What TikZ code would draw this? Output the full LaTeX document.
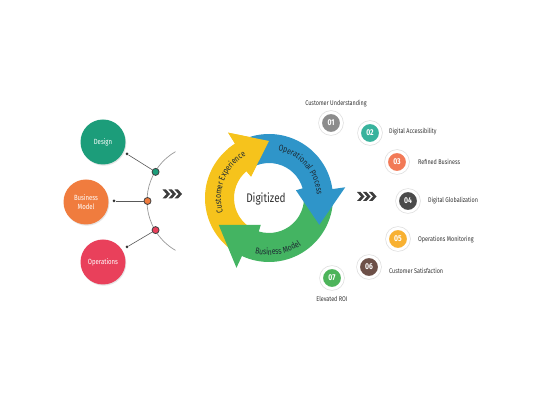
\documentclass[tikz,border=0pt]{standalone}
\usepackage{fontspec}
\setmainfont{Fira Sans}[FakeStretch=0.8]
\usetikzlibrary{decorations.text,calc,shadows}
\definecolor{cYel}{HTML}{F6C31C}
\definecolor{cBlu}{HTML}{2F95C9}
\definecolor{cGrn}{HTML}{44B462}
\definecolor{cDes}{HTML}{1C9D7A}
\definecolor{cBus}{HTML}{F07C3E}
\definecolor{cOps}{HTML}{E9405B}
\definecolor{nA}{HTML}{8C8C8C}
\definecolor{nB}{HTML}{38B39D}
\definecolor{nC}{HTML}{F27A57}
\definecolor{nD}{HTML}{4B4B4B}
\definecolor{nE}{HTML}{F8B132}
\definecolor{nF}{HTML}{6D5048}
\definecolor{nG}{HTML}{4DB45A}
\definecolor{txt}{HTML}{333333}
\definecolor{ringtxt}{HTML}{1E2A33}
\definecolor{chev}{HTML}{3D3D3D}
\newcommand{\ringarrow}[4]{%
  \fill[#1] (#2:64) arc[start angle=#2, end angle=#3, radius=64] -- (#3:77) -- (#4:57)
    -- ({#3+8}:28) -- ({#3+8}:35) arc[start angle={#3+8}, end angle=#2, radius=35] -- cycle;}
\newcommand{\chevrons}[1]{%
  \foreach \k in {0,6,12}{
    \fill[chev] ($(#1)+(\k-9.5,4.5)$) -- ++(3.5,0) -- ++(4,-4.5) -- ++(-4,-4.5) -- ++(-3.5,0) -- ++(4,4.5) -- cycle;}}
\begin{document}
\begin{tikzpicture}[x=1pt,y=1pt,
  bigc/.style={circle, minimum size=45pt, inner sep=0pt, text=white, align=center,
     font=\fontsize{7.5}{8.5}\selectfont, drop shadow={opacity=0.2, shadow xshift=0.8pt, shadow yshift=-1.2pt}},
  blackdot/.style={circle, fill=black!80, minimum size=3pt, inner sep=0pt},
  cdot/.style={circle, draw=black!75, line width=0.8pt, minimum size=7pt, inner sep=0pt},
  numc/.style={circle, draw=white, line width=3pt, minimum size=21pt, inner sep=0pt, text=white,
     preaction={draw=black!13, line width=4.4pt},
     font=\bfseries\fontsize{8.5}{9}\selectfont, drop shadow={opacity=0.18, shadow xshift=0.6pt, shadow yshift=-1pt}},
  lab/.style={text=txt, font=\fontsize{6.8}{8}\selectfont, inner sep=0pt},
  conn/.style={draw=black!65, line width=0.6pt}
]
\useasboundingbox (0,0) rectangle (540,403);
\fill[white] (0,0) rectangle (540,403);

% ---- left part ----
\coordinate (A) at (204,202);
\draw[black!40, line width=0.7pt] ($(A)+(120:57)$) arc[start angle=120, end angle=240, radius=57];
\node[bigc, fill=cDes] (design) at (103,261) {Design};
\node[bigc, fill=cBus] (busmod) at (86,201) {Business\\Model};
\node[bigc, fill=cOps] (ops) at (103,141) {Operations};
\node[blackdot] (bd1) at (127,249) {};
\node[blackdot] (bd2) at (114,202) {};
\node[blackdot] (bd3) at (127,156) {};
\node[cdot, fill=cDes] (cd1) at ($(A)+(149:56.5)$) {};
\node[cdot, fill=cBus] (cd2) at ($(A)+(180:56.5)$) {};
\node[cdot, fill=cOps] (cd3) at ($(A)+(211:56.5)$) {};
\draw[conn] (bd1) -- (cd1);
\draw[conn] (bd2) -- (cd2);
\draw[conn] (bd3) -- (cd3);

\coordinate (chL) at (172,209);
\coordinate (chR) at (366.5,206.5);
\chevrons{chL}
\chevrons{chR}

% ---- ring ----
\begin{scope}[shift={(269,205)}]
  \ringarrow{cYel}{238}{122}{90}
  \ringarrow{cGrn}{-3}{-115}{-152}
  \ringarrow{cBlu}{112}{8}{-28}
  \fill[cYel] (130:64) arc[start angle=130, end angle=122, radius=64] -- (122:77) -- (90:57)
    -- (130:28) -- (130:35) -- cycle;
  \path[decorate, decoration={text along path, text align=center,
     text={|\color{ringtxt}\fontsize{8.6}{9}\selectfont|Customer Experience}}]
     (205:48) arc[start angle=205, end angle=111, radius=48];
  \path[decorate, decoration={text along path, text align=center,
     text={|\color{ringtxt}\fontsize{8.6}{9}\selectfont|Operational Process}}]
     (90:48) arc[start angle=90, end angle=-7, radius=48];
  \path[decorate, decoration={text along path, text align=center,
     text={|\color{ringtxt}\fontsize{8.6}{9}\selectfont|Business Model}}]
     (238:57) arc[start angle=238, end angle=322, radius=57];
\end{scope}
\node[text=txt, font=\fontsize{12.5}{14}\selectfont] (dig) at (266,204) {Digitized};

% ---- right list ----
\node[numc, fill=nA] (n1) at (331,280) {01};
\node[numc, fill=nB] (n2) at (370,270) {02};
\node[numc, fill=nC] (n3) at (397,241) {03};
\node[numc, fill=nD] (n4) at (408,202) {04};
\node[numc, fill=nE] (n5) at (398,164) {05};
\node[numc, fill=nF] (n6) at (369,136) {06};
\node[numc, fill=nG] (n7) at (332,125) {07};
\node[lab] (l1) at (336,299) {Customer Understanding};
\node[lab, anchor=west] (l2) at (389,271) {Digital Accessibility};
\node[lab, anchor=west] (l3) at (418,241) {Refined Business};
\node[lab, anchor=west] (l4) at (428,202) {Digital Globalization};
\node[lab, anchor=west] (l5) at (418,163) {Operations Monitoring};
\node[lab, anchor=west] (l6) at (389,132) {Customer Satisfaction};
\node[lab] (l7) at (332,104) {Elevated ROI};
\end{tikzpicture}
\end{document}
